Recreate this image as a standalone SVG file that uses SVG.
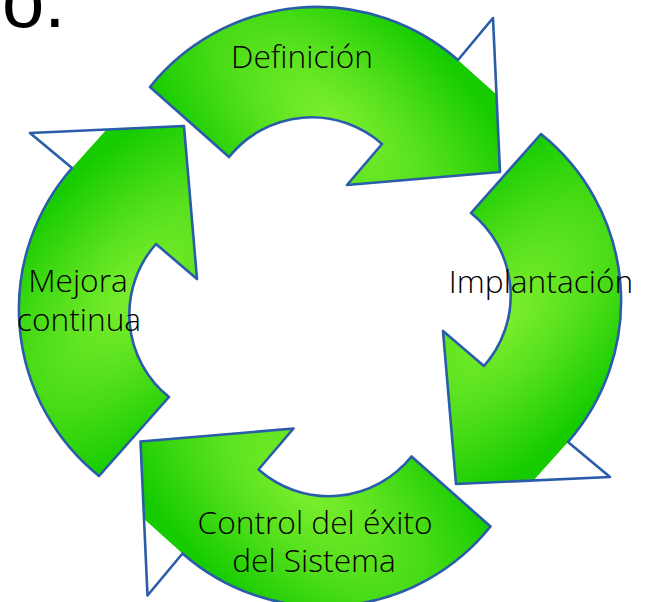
<svg xmlns="http://www.w3.org/2000/svg" width="646" height="602" viewBox="0 0 646 602">
<style>
.fill{fill:url(#g);stroke:none}
.tri{fill:#fff;stroke:none}
.line{fill:none;stroke:#2a5caa;stroke-width:2.6;stroke-linejoin:round}
text{font-family:"Open Sans","DejaVu Sans",sans-serif;font-weight:300;font-size:31.7px;fill:#000;text-anchor:middle}
</style>
<defs>
<radialGradient id="g" gradientUnits="userSpaceOnUse" cx="0" cy="0" r="1" gradientTransform="translate(335 125) rotate(42) scale(250 125)">
<stop offset="0" stop-color="#7eef2e"/>
<stop offset="0.45" stop-color="#55e01c"/>
<stop offset="1" stop-color="#16cc00"/>
</radialGradient>
<g id="arrow">
<path class="tri" d="M458 60 L493 18 L497 95 Z"/>
<path class="fill" d="M150 87 A214 214 0 0 1 458 60 L497 95 L500 172 L347 185 L382 144 A106 106 0 0 0 229 157 Z"/>
<path class="line" d="M458 60 A214 214 0 0 0 150 87 L229 157 A106 106 0 0 1 382 144 L347 185 L500 172 L493 18 Z"/>
</g>
</defs>
<text id="fragment" x="2" y="27" style="font-family:'Liberation Sans',Arial,sans-serif;font-weight:400;font-size:76px;text-anchor:start;fill:#000">o.</text>
<g id="definicion"><use href="#arrow"/><text x="302" y="68">Definición</text></g>
<g id="implantacion"><use href="#arrow" transform="rotate(90 322 306)"/><text x="541" y="293">Implantación</text></g>
<g id="control"><use href="#arrow" transform="translate(-3.5 1.5) rotate(180 322 306)"/><text x="315" y="534">Control del éxito</text><text x="314" y="572">del Sistema</text></g>
<g id="mejora"><use href="#arrow" transform="translate(-4 -2) rotate(270 322 306)"/><text x="78" y="292">Mejora</text><text x="79" y="331">continua</text></g>
<g id="connectors"></g>
</svg>
